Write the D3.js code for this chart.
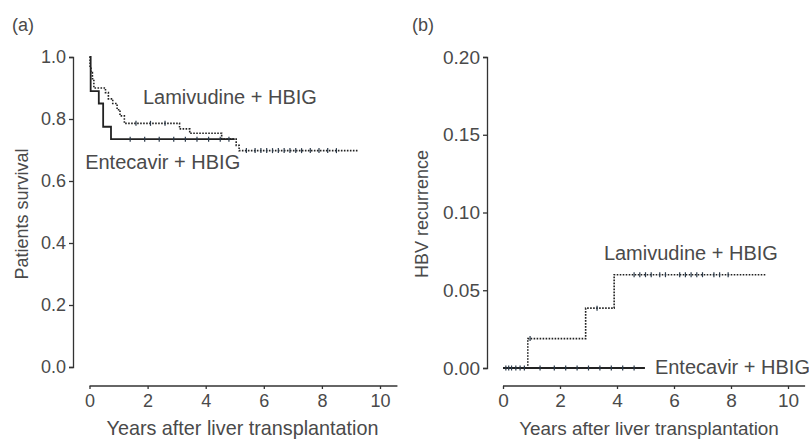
<!DOCTYPE html>
<html>
<head>
  <meta charset="utf-8">
  <script src="https://d3js.org/d3.v7.min.js"></script>
  <style>
    body { margin: 0; background: #fff; }
    svg { display: block; font-family: "Liberation Sans", Arial, sans-serif; }
    .axis text { fill: #4a4a4a; }
    .axis line, .axis path { stroke: #333; stroke-width: 1.3; }
    .lbl { fill: #4a4a4a; }
  </style>
</head>
<body>
<svg id="chart" width="809" height="439"></svg>
<script>
  // panel (a): Kaplan-Meier survival, step points (time in years, survival)
  const survTimeLam = [0, 0.02, 0.05, 0.1, 0.15, 0.55, 0.65, 0.8, 0.95, 1.05, 1.2, 3.1, 3.45, 4.55, 5.05, 5.15, 9.25];
  const survLam     = [1.0, 0.97, 0.95, 0.93, 0.9, 0.885, 0.865, 0.85, 0.83, 0.81, 0.786, 0.768, 0.754, 0.735, 0.715, 0.698, 0.698];
  const survTimeEnt = [0, 0.04, 0.32, 0.47, 0.74, 5.0];
  const survEnt     = [1.0, 0.89, 0.85, 0.775, 0.735, 0.735];
  const censorLamA  = [1.6, 2.1, 2.6, 5.4, 5.7, 5.9, 6.1, 6.3, 6.5, 6.7, 6.9, 7.1, 7.3, 7.6, 7.9, 8.2, 8.5];
  const censorEntA  = [1.4, 1.9, 2.4, 2.9, 3.3, 3.7, 4.1, 4.5, 4.8];

  // panel (b): cumulative HBV recurrence
  const recTimeLam = [0, 0.87, 2.9, 3.9, 9.25];
  const recLam     = [0, 0.0189, 0.0385, 0.06, 0.06];
  const recTimeEnt = [0, 4.98];
  const recEnt     = [0, 0];
  const censorLamB = [0.95, 3.3, 4.6, 4.8, 5.0, 5.2, 5.5, 5.7, 6.2, 6.4, 6.6, 6.8, 7.0, 7.4, 7.6, 7.9];
  const censorEntB = [0.1, 0.2, 0.3, 0.45, 0.6, 0.75, 1.3, 1.8, 2.2, 2.6, 3.0, 3.4, 3.8, 4.2, 4.6];

  const xTicks = [0, 2, 4, 6, 8, 10];
  const yTicksA = [0, 0.2, 0.4, 0.6, 0.8, 1.0];
  const yTicksB = [0, 0.05, 0.10, 0.15, 0.20];

  const svg = d3.select("#chart");

  function panel(opt) {
    const g = svg.append("g");
    const x = d3.scaleLinear().domain([0, 10]).range(opt.xr);
    const y = d3.scaleLinear().domain(opt.yd).range(opt.yr);

    // y axis (offset from plot)
    g.append("g").attr("class", "axis")
      .attr("transform", `translate(${opt.yAxisX},0)`)
      .attr("font-size", opt.tickSize)
      .call(d3.axisLeft(y).tickValues(opt.yTicks).tickFormat(opt.yFmt).tickSize(4).tickPadding(3))
      .selectAll("text").attr("font-size", opt.tickSize);

    // x axis, line runs a bit past 10
    const xa = g.append("g").attr("class", "axis")
      .attr("transform", `translate(0,${opt.xAxisY})`)
      .call(d3.axisBottom(x).tickValues(xTicks).tickSize(3).tickPadding(5));
    xa.selectAll("text").attr("font-size", opt.tickSize);
    xa.select(".domain").remove();
    xa.append("line").attr("x1", x(0)).attr("x2", x(10.6)).attr("y1", 0).attr("y2", 0);

    const line = d3.line().x(d => x(d[0])).y(d => y(d[1])).curve(d3.curveStepAfter);

    opt.series.forEach(s => {
      const pts = s.t.map((t, i) => [t, s.v[i]]);
      g.append("path")
        .attr("d", line(pts))
        .attr("fill", "none")
        .attr("stroke", "#222")
        .attr("stroke-width", s.dash ? 1.6 : 1.8)
        .attr("stroke-dasharray", s.dash ? "1.6,1.4" : null);

      // censor ticks
      g.append("g").selectAll("line")
        .data(s.c)
        .join("line")
        .attr("x1", d => x(d)).attr("x2", d => x(d))
        .attr("y1", d => y(s.v[d3.bisectRight(s.t, d) - 1]) - 2.5)
        .attr("y2", d => y(s.v[d3.bisectRight(s.t, d) - 1]) + 2.5)
        .attr("stroke", "#2b3a4a")
        .attr("stroke-width", 1.2);
    });

    // series labels
    opt.labels.forEach(l => {
      g.append("text").attr("class", "lbl")
        .attr("x", x(l.t)).attr("y", y(l.v))
        .attr("font-size", 20)
        .text(l.text);
    });

    g.append("text").attr("class", "lbl")
      .attr("transform", `translate(${opt.titleX},${opt.titleY}) rotate(-90)`)
      .attr("text-anchor", "middle")
      .attr("font-size", opt.yTitleSize)
      .text(opt.yTitle);

    g.append("text").attr("class", "lbl")
      .attr("x", opt.xTitleX).attr("y", 435)
      .attr("text-anchor", "middle")
      .attr("font-size", opt.xTitleSize)
      .text("Years after liver transplantation");

    g.append("text").attr("class", "lbl")
      .attr("x", opt.tagX).attr("y", 31)
      .attr("font-size", 18)
      .text(opt.tag);
  }

  panel({
    tag: "(a)", tagX: 12,
    xr: [89.5, 380], yd: [0, 1], yr: [367, 57],
    yAxisX: 73, xAxisY: 386, tickSize: 18,
    yTicks: yTicksA, yFmt: d3.format(".1f"),
    yTitle: "Patients survival", titleX: 28, titleY: 214, yTitleSize: 18,
    xTitleX: 242.5, xTitleSize: 19.8,
    series: [
      { t: survTimeLam, v: survLam, c: censorLamA, dash: true },
      { t: survTimeEnt, v: survEnt, c: censorEntA, dash: false }
    ],
    labels: [
      { text: "Lamivudine + HBIG", t: 1.84, v: 0.85 },
      { text: "Entecavir + HBIG", t: -0.15, v: 0.64 }
    ]
  });

  panel({
    tag: "(b)", tagX: 412,
    xr: [503, 788], yd: [0, 0.2], yr: [368, 57],
    yAxisX: 487, xAxisY: 386, tickSize: 19,
    yTicks: yTicksB, yFmt: d3.format(".2f"),
    yTitle: "HBV recurrence", titleX: 428, titleY: 214, yTitleSize: 18,
    xTitleX: 649, xTitleSize: 18.9,
    series: [
      { t: recTimeLam, v: recLam, c: censorLamB, dash: true },
      { t: recTimeEnt, v: recEnt, c: censorEntB, dash: false }
    ],
    labels: [
      { text: "Lamivudine + HBIG", t: 3.54, v: 0.0695 },
      { text: "Entecavir + HBIG", t: 5.33, v: -0.004 }
    ]
  });
</script>
</body>
</html>
